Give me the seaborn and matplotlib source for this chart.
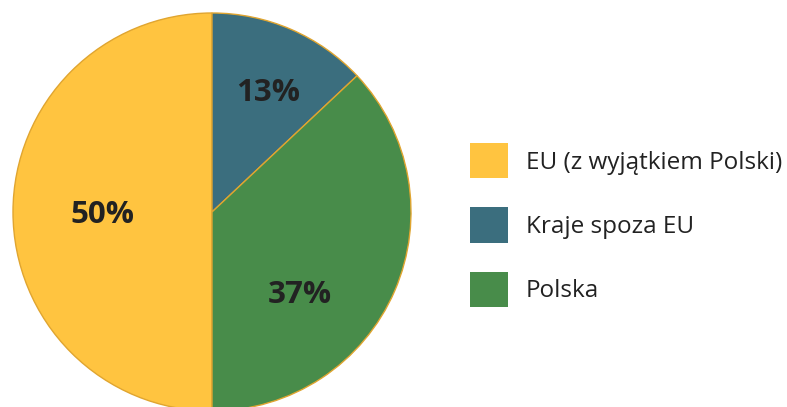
import matplotlib
matplotlib.use("Agg")
import matplotlib.pyplot as plt
from matplotlib.patches import Patch
import seaborn as sns

#---- Data ----#
categories = ["EU (z wyjątkiem Polski)", "Kraje spoza EU", "Polska"]
shares = [50, 13, 37]
pct_labels = ["50%", "13%", "37%"]

#---- Style ----#
sns.set_theme(style="white")
plt.rcParams['font.family'] = ['Open Sans', 'DejaVu Sans']
pal = sns.color_palette(["#FFC440", "#3B6E7E", "#488C4A"])
edge = "#E0A530"
# label positions inside each wedge (pie radius units)
lab_xy = [(-0.55, -0.015), (0.28, 0.60), (0.44, -0.415)]

fig = plt.figure(figsize=(7.87, 4.07), dpi=100)
ax = fig.add_axes([12/787, -5/407, 400/787, 400/407])

#---- Pie ----#
wedges, _ = ax.pie(shares, colors=pal, startangle=270, counterclock=False,
                   radius=1, wedgeprops=dict(edgecolor=edge, linewidth=1))
for (x, y), t in zip(lab_xy, pct_labels):
    ax.text(x, y, t, ha='center', va='center', fontsize=22.5,
            fontweight='bold', color='#222222')
ax.set_xlim(-1.005, 1.005)
ax.set_ylim(-1.005, 1.005)
ax.set_aspect('equal')
ax.axis('off')

#---- Legend ----#
handles = [Patch(facecolor=c, edgecolor='none') for c in pal]
fig.legend(handles, categories, loc='center left', bbox_to_anchor=(448/787, 0.447),
           frameon=False, fontsize=17.5, handlelength=1.55, handleheight=1.85,
           labelspacing=1.2, handletextpad=0.74, labelcolor='#222222')

fig.savefig('out.png', dpi=100)
